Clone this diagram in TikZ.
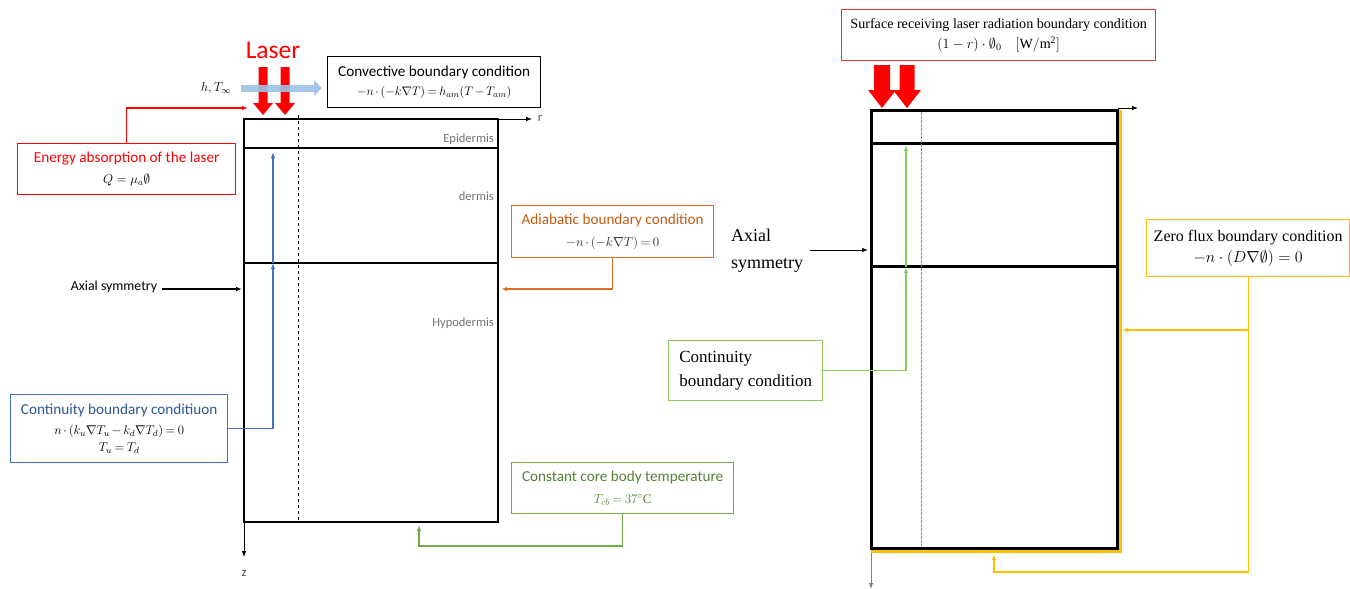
\RequirePackage{fix-cm}
\documentclass[tikz,border=0pt]{standalone}
\usepackage{amsmath,amssymb}
\usepackage{fontspec}
\setmainfont{Liberation Serif}
\newfontfamily\sansf{Carlito}
\usetikzlibrary{arrows.meta}
\definecolor{lred}{HTML}{FF0000}
\definecolor{rred}{HTML}{E8312F}
\definecolor{cblue}{HTML}{4472C4}
\definecolor{cbluetext}{HTML}{2F5597}
\definecolor{corange}{HTML}{E07028}
\definecolor{corangetext}{HTML}{C55A11}
\definecolor{cgreen}{HTML}{70AD47}
\definecolor{cgreentext}{HTML}{548235}
\definecolor{lgreen}{HTML}{8CCB5E}
\definecolor{cyellow}{HTML}{FFC000}
\definecolor{lblue}{HTML}{9DC3E6}
\newcommand\lzarrow[6]{%
  \fill[lred] ({#1-#2},#4) -- ({#1+#2},#4) -- ({#1+#2},#5) -- ({#1+#3},#5)
    -- (#1,#6) -- ({#1-#3},#5) -- ({#1-#2},#5) -- cycle;}
\newcommand\tightmath{\medmuskip=2.5mu\thickmuskip=3.5mu}
\tikzset{
  arr/.style={-{Latex[length=6pt,width=4.5pt]}},
  cbox/.style={draw, line width=1.3pt, inner sep=0pt, anchor=north west, align=center},
  lbl/.style={text=black!55, font=\sansf\fontsize{12.5}{14}\selectfont, inner sep=0pt},
  frame/.style={line width=2.6pt},
  sf15/.style={font=\sansf\fontsize{15.2}{21.5}\selectfont},
}
\begin{document}
\begin{tikzpicture}[x=1pt,y=-1pt]
\useasboundingbox (0,0) rectangle (1350,589);

% ================= LEFT DIAGRAM =================
% tissue block
\draw[frame] (244,119) rectangle (498,522);
\draw[frame] (244,148) -- (498,148);
\draw[frame] (244,263) -- (498,263);
\draw[dashed, line width=0.8pt] (298,115) -- (298,522);
% axes
\coordinate (rO) at (498,119);
\coordinate (rE) at (532,119);
\draw[arr, line width=0.8pt] (rO) -- (rE);
\node[font=\sansf\fontsize{12.5}{14}\selectfont, text=black!70] (rl) at (540,118) {r};
\coordinate (zO) at (244,522);
\coordinate (zE) at (244,557);
\draw[arr, line width=0.8pt] (zO) -- (zE);
\node[font=\sansf\fontsize{12.5}{14}\selectfont, text=black!70] (zl) at (244,574) {z};
% layer labels
\node[lbl, anchor=east] (epi) at (494,139) {Epidermis};
\node[lbl, anchor=east] (der) at (494,196) {dermis};
\node[lbl, anchor=east] (hyp) at (494,323) {Hypodermis};

% laser
\node[text=lred, font=\sansf\fontsize{25.5}{27}\selectfont] (laser) at (273,50) {Laser};
\lzarrow{263}{4.5}{10}{67}{103}{115}
\lzarrow{285}{4.5}{10}{67}{103}{115}
\coordinate (hS) at (241,88);
\coordinate (hE) at (322,88);
\draw[lblue, opacity=0.9, line width=7pt, -{Triangle[length=8pt,width=15pt]}] (hS) -- (hE);
\node[font=\fontsize{13}{15}\selectfont] (hT) at (216,88) {$h,T_\infty$};

% convective box
\node[cbox, sf15, minimum width=213pt, minimum height=51pt] (conv) at (327,56)
  {\raisebox{-2pt}{Convective boundary condition}\\{\fontsize{12.3}{21}\selectfont\tightmath$-n\cdot(-k\nabla T)=h_{am}(T-T_{am})$}};

% energy absorption box
\node[cbox, sf15, draw=lred, text=lred, minimum width=218pt, minimum height=51pt] (energy) at (17,143)
  {Energy absorption of the laser\\{\fontsize{13}{22}\selectfont\color{black}$Q=\mu_a\emptyset$}};
\coordinate (enT) at (248,108);
\draw[lred, line width=1.2pt, arr] (energy.north) |- (enT);

% axial symmetry (left)
\node[font=\sansf\fontsize{13.8}{15}\selectfont, inner sep=0pt] (axl) at (114,287) {Axial symmetry};
\coordinate (axlT) at (242,289);
\draw[line width=1.1pt, arr] (axl.east |- axlT) ++(5,0) -- (axlT);

% adiabatic box
\node[cbox, sf15, draw=corange, text=corangetext, minimum width=202pt, minimum height=52pt] (adia) at (511,205)
  {Adiabatic boundary condition\\{\fontsize{13}{21}\selectfont\tightmath\color{black!85}$-n\cdot(-k\nabla T)=0$}};
\coordinate (adT) at (501,289);
\draw[corange, line width=1.2pt, arr] (adia.south) |- (adT);

% continuity box (left)
\node[cbox, draw=cblue, text=cbluetext, minimum width=217pt, minimum height=68pt,
      font=\sansf\fontsize{15.2}{20}\selectfont] (cont) at (10,394)
  {Continuity boundary conditiuon\\{\fontsize{12.7}{18}\selectfont\tightmath\color{black}$n\cdot(k_u\nabla T_u-k_d\nabla T_d)=0$}\\[-3pt]{\fontsize{12.7}{16}\selectfont\tightmath\color{black}$T_u=T_d$}};
\coordinate (cA) at (273,263);
\coordinate (cB) at (273,152);
\draw[cblue, line width=1.2pt, arr] (cont.east) -| (cA);
\draw[cblue, line width=1.2pt, arr] (cA) -- (cB);

% core body temperature box
\node[cbox, sf15, draw=cgreen, text=cgreentext, minimum width=222pt, minimum height=51pt] (core) at (511,462)
  {Constant core body temperature\\{\fontsize{13}{20}\selectfont\tightmath$T_{cb}=37^\circ\mathrm{C}$}};
\coordinate (coT) at (419,525);
\draw[cgreen, line width=1.2pt, arr] (core.south) -- (core.south |- 0,546) -| (coT);

% ================= RIGHT DIAGRAM =================
\draw[line width=3pt] (871,110) rectangle (1117,548);
\draw[line width=3pt] (871,143) -- (1117,143);
\draw[line width=3pt] (871,266) -- (1117,266);
\draw[black!45, line width=1pt, dash pattern=on 2.5pt off 1.5pt] (921,112) -- (921,546);
\draw[cyellow, line width=2.6pt] (1120.5,110) -- (1120.5,551.5) -- (871,551.5);
\coordinate (rO2) at (1118,108);
\coordinate (rE2) at (1138,108);
\draw[arr, line width=0.8pt] (rO2) -- (rE2);
\coordinate (zO2) at (871,553);
\coordinate (zE2) at (871,589);
\draw[black!50, line width=0.9pt, arr] (zO2) -- (zE2);

% laser arrows right
\lzarrow{882}{8}{14}{65}{90}{108}
\lzarrow{907}{7.5}{14}{65}{90}{108}

% surface box
\node[cbox, draw=rred, minimum width=314pt, minimum height=51pt,
      font=\fontsize{14.1}{20}\selectfont] (surf) at (841,9)
  {Surface receiving laser radiation boundary condition\\$(1-r)\cdot\emptyset_0\quad[\mathrm{W/m^2}]$};

% axial symmetry right
\node[align=left, font=\fontsize{18}{27}\selectfont, inner sep=0pt] (axr) at (767,251) {Axial\\symmetry};
\coordinate (axrS) at (810,250);
\coordinate (axrT) at (868,250);
\draw[line width=0.8pt, arr] (axrS) -- (axrT);

% continuity box right
\node[cbox, draw=lgreen, minimum width=154pt, minimum height=60pt, align=left,
      font=\fontsize{17}{24}\selectfont] (contR) at (668,340)
  {Continuity\\boundary condition};
\coordinate (gA) at (906,267);
\coordinate (gB) at (906,145);
\draw[lgreen, line width=1.2pt, arr] (contR.east) -| (gA);
\draw[lgreen, line width=1.2pt, arr] (gA) -- (gB);

% zero flux box
\node[cbox, draw=cyellow, minimum width=203pt, minimum height=57pt,
      font=\fontsize{16}{21}\selectfont] (zero) at (1146,219)
  {Zero flux boundary condition\\$-n\cdot(D\nabla\emptyset)=0$};
\coordinate (yA) at (1122,330);
\coordinate (yB) at (994,554);
\draw[cyellow, line width=1.3pt, arr] (zero.south) |- (yA);
\draw[cyellow, line width=1.3pt, arr] (zero.south |- 0,330) -- (zero.south |- 0,572) -| (yB);

\end{tikzpicture}
\end{document}
